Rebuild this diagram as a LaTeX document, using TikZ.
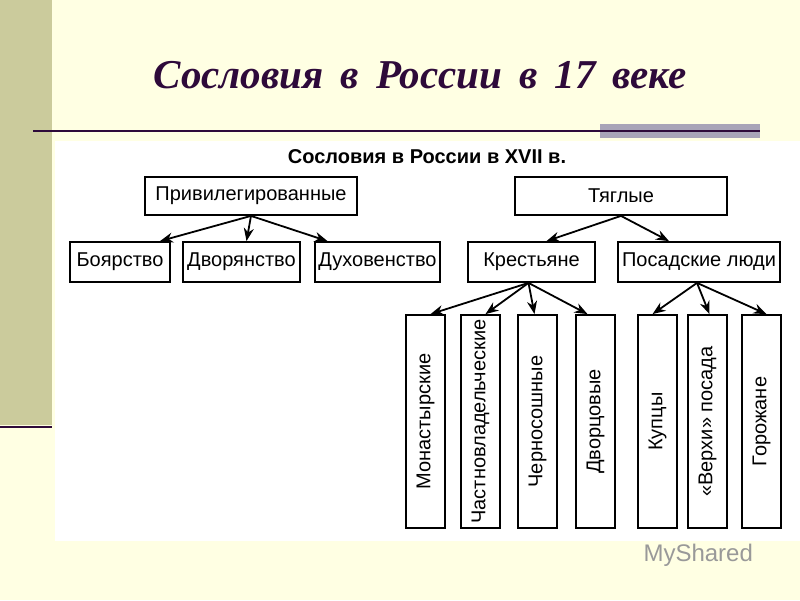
\documentclass[tikz,border=0pt]{standalone}
\usepackage{fontspec}
\setmainfont{Liberation Sans}
\newfontfamily\ttlfont{Liberation Serif}
\usetikzlibrary{arrows.meta}
\definecolor{cream}{HTML}{FFFFE3}
\definecolor{olive}{HTML}{CBCB9C}
\definecolor{ttl}{HTML}{2E0A3A}
\definecolor{barg}{HTML}{A8A4B8}
\tikzset{
 bx/.style={draw,line width=1.8pt,fill=white,inner sep=0pt,font=\fontsize{20}{20}\selectfont},
 vbx/.style={bx,rotate=90},
 ar/.style={line width=1.8pt,-{Stealth[length=13pt,width=10pt]}}
}
\begin{document}
\begin{tikzpicture}[x=1pt,y=-1pt]
\useasboundingbox (0,0) rectangle (800,600);
\fill[cream] (0,0) rectangle (800,600);
\fill[olive] (0,0) rectangle (52,425);
\draw[ttl,line width=2.5pt] (0,427) -- (52,427);
\node[ttl,font=\ttlfont\fontsize{41}{41}\selectfont\bfseries\itshape] (title) at (420,75) {Сословия\, в\, России\, в\, 17\, веке};
\fill[barg] (600,124) rectangle (760,138);
\draw[ttl,line width=1.5pt] (33,131) -- (760,131);
\fill[white] (55,141) rectangle (800,541);
\node[font=\fontsize{20}{20}\selectfont\bfseries] (sub) at (427,157) {Сословия в России в XVII в.};
\node[bx,minimum width=212,minimum height=38] (priv) at (251,196) {Привилегированные};
\node[bx,minimum width=212,minimum height=38] (tyag) at (621,196) {Тяглые};
\node[bx,minimum width=100,minimum height=40] (boy) at (120,262) {Боярство};
\node[bx,minimum width=117,minimum height=40] (dvor) at (241.5,262) {Дворянство};
\node[bx,minimum width=125,minimum height=40] (duh) at (377.5,262) {Духовенство};
\node[bx,minimum width=127,minimum height=40] (kr) at (531.5,262) {Крестьяне};
\node[bx,minimum width=162,minimum height=40] (pos) at (699,262) {Посадские люди};
\foreach \n/\x/\t in {mon/425.5/Монастырские, chast/480.5/Частновладельческие, cher/537.5/Черносошные, dvc/595.5/Дворцовые, kup/657.5/Купцы, verh/707.5/«Верхи» посада, gor/761.5/Горожане}
  \node[vbx,minimum width=213,minimum height=39] (\n) at (\x,421.5) {\t};
\draw[ar] (priv.south) -- ([xshift=40pt]boy.north);
\draw[ar] (priv.south) -- ([xshift=5pt]dvor.north);
\draw[ar] (priv.south) -- ([xshift=-50pt]duh.north);
\draw[ar] (tyag.south) -- ([xshift=15pt]kr.north);
\draw[ar] (tyag.south) -- ([xshift=-30pt]pos.north);
\coordinate (ks) at ([xshift=-3pt]kr.south);
\draw[ar] (ks) -- ([xshift=5pt]mon.east);
\draw[ar] (ks) -- ([xshift=5pt]chast.east);
\draw[ar] (ks) -- ([xshift=-3pt]cher.east);
\draw[ar] (ks) -- ([xshift=-8pt]dvc.east);
\coordinate (ps) at ([xshift=-2pt]pos.south);
\draw[ar] (ps) -- ([xshift=-5pt]kup.east);
\draw[ar] (ps) -- ([xshift=2pt]verh.east);
\draw[ar] (ps) -- ([xshift=5pt]gor.east);
\node[gray!80,font=\fontsize{24}{24}\selectfont,anchor=west] (ms) at (640,555) {MyShared};
\end{tikzpicture}
\end{document}
